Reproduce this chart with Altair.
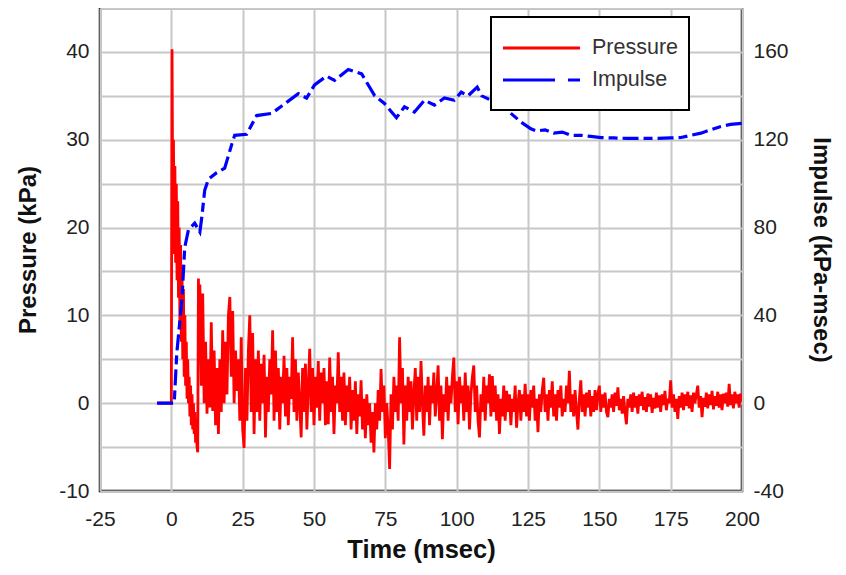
import altair as alt
import pandas as pd

# ---------------- Pressure (kPa) ----------------
# flat pre-trigger part
pre_t = [-5.0, 0.0]
pre_v = [0.0, 0.0]

# initial spike region, sampled every 0.25 msec starting at t = 0.25
early_start, early_dt = 0.25, 0.25
early_v = [40.3, 22, 30, 17, 27, 16, 25, 14, 23, 12, 20, 9, 18, 7, 15, 5, 13, 3, 10, 2,
           7, 0.5, 5, 0, 3, -1.5, 2, -2.5, 1, -3, 0, -3.5, -1, -4.5, -2, -5, -5.6, 14.2, 5]

# remaining record sampled every 0.5 msec, in segments (start time, values)
seg_10 = [13.5, 2, 12.5, 0, 7, -1.2, 5, -0.5, 9.2, -0.9, 6, -2.5, 4, -3.5, 5, -1, 8.3, 0, 7, 1,
          10, 12.1, 3, 10.5, 0, 6, 1.4, 5, -2, 7.5, -3, -5.1, 4, -2, 6, 10, -1, 8, -3.5, 5, -1]
seg_30 = [6, -2, 4.5, 0, 5.5, -3.9, 3, -1, 5, 1, 8.3, -2, 6, -1, 4, -3, 3, 0, 5.4, -1.5,
          4, -2.5, 3, 0.5, 7.5, -1, 5, -2, 3.5, 0, -3.9, 4, -1, 4.5, -3, 2, 6.2, -1, 4, -2.5,
          3, -0.5, 4.8, -2, 3.5, 0, 4, -2.5, 2.5, -2.4, 5.2, -1, 3, -3.5, 2, 0, 5.8, -1, 3, -2]
seg_60 = [3.5, -2.5, 2, -1, 3, -3, 1.5, -2, 2.5, -3.5, 1, -1.5, 2.6, -3, 0.5, -4, 1, -2.5, 0, -4.5,
          -1, -5.6, 0, -3, 1.5, -2, 3.9, -1, 2, -4, 0, -3, -7.5, 1, -3, 3, -1, 2, -2, 7.5,
          0, 4, -4.7, 2, -2]
seg_83 = [3, -1, 2.5, -3, 1, 4, -2, 3, -1, 4.8, 0, -3.7, 2, -1, 3, -2.5, 2, 0, 3.5, -1.5,
          1, 4.3, -2, 2, -4.1, 1, -1, 3, -2, 2, 0, 3, 5.2, -1, 2.5, -2.4, 3, 0, 2, -2,
          3.5, -1, 2, -3, 1, 3, 4.3, -1, 2, -2, -3.9, 1, -1, 3, -2, 2, 0, 3.3, -1.5, 3.1]
seg_113 = [-1, 2, -2, 1, -3.5, 0.5, -1.5, 2, -2, 1.4, -1, 1, -2.5, 0.5, -1, 2, -2.8, 0, 1.5, -2,
           1, -1, 2.2, -1.5, 1, -2, 1.5, -0.5, 2, -2, 0.5, -3.3, 1, -1, 1.5, 2.9, -1, 1, -2, 1.5,
           -0.5, 2.5, -1.5, 1, -2, 1.5, -0.5, 2, -1.5, 0.5, -1, 2, 0, 3.7, -1, 1, -1.5, 1.5, -1, -3,
           0.5, 2.6, -1, 1, -1.5, 1.2, -0.5, 1.5, -1.5, 0.8, -1, 1.5, -0.8, 1, 2.0]
seg_150 = [-1, 1, -0.5, 1.2, -1, -1.6, 0.5, -0.5, 1, -1, 1.2, -0.3, 1.8, -0.8, 0.5, -1.2, 0.8, -1, -2.4, 0.5,
           -0.5, 1, -1, 1.2, -0.5, 0.8, -1.2, 1, -0.3, 1.3, -0.8, 0.7, -1, 1.1, -0.4, 1, -1.1, 0.6, -0.6, 1.2,
           -0.5, 0.9, -1, 1, -0.2, 1.4, -0.8, 0.5, 0, 2.6, -0.5, 1, -1, 0.5, -1.8, 0.8, -0.5, 1.2, -0.8, 1,
           -0.3, 1.3, -0.6, 0.9, -1, 1.2, 0, 1, 2.0, -0.5, 0.8, -1.6, 0.6, -0.4, 1.2, -0.6, 1, -0.2, 1.4, -0.7,
           0.8, -0.3, 1.3, -0.5, 1, -0.8, 1.1, 0, 1.2, -0.4, 2.2, -0.2, 1, -0.6, 1.3, 0, 1, -0.5, 1.1, 0.3]
segments = [(10.0, seg_10), (30.5, seg_30), (60.5, seg_60), (83.0, seg_83), (113.0, seg_113), (150.5, seg_150)]
seg_dt = 0.5

# ---------------- Impulse (kPa-msec) ----------------
imp_t = [-5, 1, 1.9, 3.7, 4.7, 6, 8.2, 10, 10.7, 11.7, 13, 15.9, 18.7, 21.2, 22.2, 26.4, 29.9, 35.2,
         40.4, 44.5, 47.4, 50.2, 54.4, 57.2, 62, 66.7, 71.3, 74.7, 78.9, 81.7, 85.2, 88.7, 92.2, 95.7,
         99.2, 101.6, 104, 107.2, 108.8, 112, 115.6, 119, 122.6, 126, 128, 131, 134, 137, 140, 143.6,
         147, 150.6, 155, 159.6, 165, 170, 175, 178.6, 182, 185.6, 189, 192.6, 196, 200]
imp_v = [0, 0, 22.6, 47, 71, 79, 82, 78, 85, 97, 102, 105, 107, 118, 122, 122.5, 131, 132,
         137, 141, 139, 145, 149, 147, 152, 150, 140, 136.5, 130, 135, 132.6, 138, 135.8, 139,
         138, 141.7, 140, 144, 140, 138, 136, 132, 128, 125, 124, 124.5, 123, 123.5, 122, 122,
         121.5, 121, 120.8, 120.6, 120.6, 120.6, 120.8, 121, 122, 123, 124.5, 126, 127, 127.5]

series_names = ["Pressure", "Impulse"]
x_ticks = [-25, 0, 25, 50, 75, 100, 125, 150, 175, 200]
left_ticks = [-10, -5, 0, 5, 10, 15, 20, 25, 30, 35, 40, 45]
right_ticks = [-40, 0, 40, 80, 120, 160]

# ---------------- build tables ----------------
p_t = list(pre_t)
p_v = list(pre_v)
for i, v in enumerate(early_v):
    p_t.append(early_start + i * early_dt)
    p_v.append(v)
for start, vals in segments:
    for i, v in enumerate(vals):
        p_t.append(start + i * seg_dt)
        p_v.append(v)

df_p = pd.DataFrame({"t": p_t, "v": p_v, "o": range(len(p_t))})
df_i = pd.DataFrame({"t": imp_t, "v": imp_v, "o": range(len(imp_t))})
one = pd.DataFrame({"k": [0]})

FONT = "Liberation Sans, Arial, sans-serif"
RED = "#ff0000"
BLUE = "#0000ff"
CURVE_DASH = [16, 5, 9, 5]

x = alt.X("t:Q", scale=alt.Scale(domain=[-25, 200], nice=False, zero=False),
          axis=alt.Axis(values=x_ticks, title="Time (msec)", grid=True, labelFlush=False,
                        labelExpr="toString(datum.value)", labelPadding=17, titlePadding=8,
                        titleFontSize=25.5))

pressure = alt.Chart(df_p).mark_line(strokeWidth=2.8, clip=True, color=RED).encode(
    x=x,
    y=alt.Y("v:Q", scale=alt.Scale(domain=[-10, 45], nice=False, zero=False),
            axis=alt.Axis(values=left_ticks, orient="left", title="Pressure (kPa)",
                          labelExpr="(datum.value % 10 == 0 && datum.value < 45) ? toString(datum.value) : ''",
                          grid=True, labelFlush=False, labelPadding=11, titlePadding=18)),
    order="o:Q",
)

impulse = alt.Chart(df_i).mark_line(strokeWidth=3.2, clip=True, color=BLUE, strokeDash=CURVE_DASH).encode(
    x=x,
    y=alt.Y("v:Q", scale=alt.Scale(domain=[-40, 180], nice=False, zero=False),
            axis=alt.Axis(values=right_ticks, orient="right", title="Impulse (kPa-msec)",
                          labelExpr="toString(datum.value)",
                          grid=False, labelFlush=False, labelPadding=11, titlePadding=20)),
    order="o:Q",
)

# ---------------- legend (drawn in pixel space of the plot) ----------------
leg_box = alt.Chart(one).mark_rect(fill="white", stroke="black", strokeWidth=2).encode(
    x=alt.value(391), x2=alt.value(589), y=alt.value(9), y2=alt.value(102))
leg_p_line = alt.Chart(one).mark_rule(color=RED, strokeWidth=3).encode(
    x=alt.value(403), x2=alt.value(480), y=alt.value(40))
leg_i_line = alt.Chart(one).mark_rule(color=BLUE, strokeWidth=3, strokeDash=[52, 13, 13, 13]).encode(
    x=alt.value(403), x2=alt.value(480), y=alt.value(72))
leg_p_text = alt.Chart(one).mark_text(text=series_names[0], align="left", baseline="middle",
                                      font=FONT, fontSize=21.5, color="#333333").encode(
    x=alt.value(492), y=alt.value(40))
leg_i_text = alt.Chart(one).mark_text(text=series_names[1], align="left", baseline="middle",
                                      font=FONT, fontSize=21.5, color="#333333").encode(
    x=alt.value(492), y=alt.value(72))

chart = alt.layer(pressure, impulse, leg_box, leg_p_line, leg_i_line, leg_p_text, leg_i_text
                  ).resolve_scale(y="independent").properties(
    width=642, height=483,
    autosize=alt.AutoSizeParams(type="none"),
    padding={"left": 92, "top": 0, "right": 96, "bottom": 75},
).configure_view(
    stroke="black", strokeWidth=2.5
).configure_axis(
    labelFont=FONT, labelFontSize=21, labelColor="#222222",
    titleFont=FONT, titleFontSize=24, titleFontWeight="bold", titleColor="#111111",
    domain=False, ticks=False, gridColor="#c8c8c8", gridWidth=2, gridOpacity=1,
)

chart.save("out.html", embed_options={"renderer": "svg", "actions": False})
